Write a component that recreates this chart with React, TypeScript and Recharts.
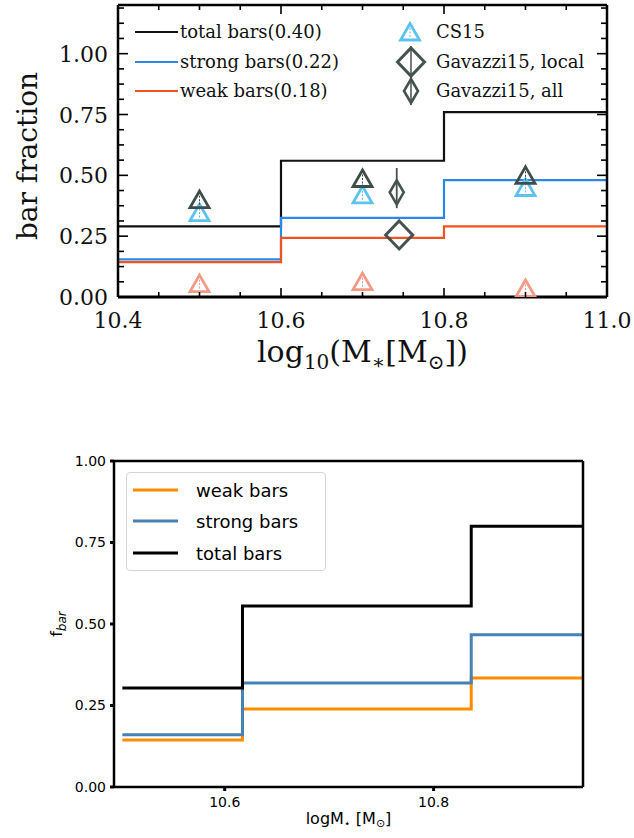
import React from 'react';
import { ComposedChart, Line, Scatter, XAxis, YAxis, ErrorBar, Legend } from 'recharts';

// ---------- top panel: simulation steps + CS15 / Gavazzi15 points ----------
const topEdges = [10.4, 10.6, 10.8, 11.0];
const topTotal = [0.29, 0.56, 0.76];
const topStrong = [0.155, 0.325, 0.48];
const topWeak = [0.143, 0.243, 0.29];

const cs15Mass = [10.5, 10.7, 10.9];
const cs15Total = [0.4, 0.487, 0.5];
const cs15Strong = [0.347, 0.42, 0.45];
const cs15Weak = [0.055, 0.063, 0.035];

const gavLocalMass = [10.745];
const gavLocalFrac = [0.255];
const gavAllMass = [10.742];
const gavAllFrac = [0.43];
const gavAllErr = [[0.065, 0.1]];

const topXTicks = [10.4, 10.45, 10.5, 10.55, 10.6, 10.65, 10.7, 10.75, 10.8, 10.85, 10.9, 10.95, 11.0];
const topYTicks = [0, 0.0625, 0.125, 0.1875, 0.25, 0.3125, 0.375, 0.4375, 0.5, 0.5625, 0.625, 0.6875,
  0.75, 0.8125, 0.875, 0.9375, 1.0, 1.0625, 1.125, 1.1875];
const topSimLabels = ['total bars(0.40)', 'strong bars(0.22)', 'weak bars(0.18)'];
const topObsLabels = ['CS15', 'Gavazzi15, local', 'Gavazzi15, all'];

// ---------- bottom panel ----------
const botEdges = [10.502, 10.617, 10.836, 10.943];
const botWeak = [0.144, 0.239, 0.334];
const botStrong = [0.16, 0.319, 0.467];
const botTotal = [0.304, 0.555, 0.8];
const botXTicks = [10.6, 10.8];
const botYTicks = [0, 0.25, 0.5, 0.75, 1.0];
const botLabels = ['weak bars', 'strong bars', 'total bars'];

const C = {
  black: '#111111',
  blue: '#2b87e8',
  red: '#f1531f',
  csBlue: '#5cc3ee',
  csGray: '#3f4d4a',
  csSalmon: '#f29a84',
  gav: '#46524f',
  orange: '#ff8c00',
  steel: '#4682b4',
};

const SERIF = 'DejaVu Serif';
const SANS = 'DejaVu Sans';

const steps = (edges: number[], vals: number[]) =>
  edges.map((x, i) => ({ x, y: vals[Math.min(i, vals.length - 1)] }));
const points = (xs: number[], ys: number[]) => xs.map((x, i) => ({ x, y: ys[i] }));

const isMajorX = (v: number) => Math.abs(v * 5 - Math.round(v * 5)) < 1e-6;
const isMajorY = (v: number) => Math.abs(v * 4 - Math.round(v * 4)) < 1e-6;

// inward matplotlib-like ticks for the top panel
const BottomTick = (props: any) => {
  const { x, y, payload } = props;
  const major = isMajorX(payload.value);
  return (
    <g>
      <line x1={x} x2={x} y1={y} y2={y - (major ? 9 : 5)} stroke="#000" strokeWidth={1.6} />
      {major && (
        <text x={x} y={y + 31} textAnchor="middle" fontFamily={SERIF} fontSize={22} fill="#111">
          {payload.value.toFixed(1)}
        </text>
      )}
    </g>
  );
};
const TopTick = (props: any) => {
  const { x, y, payload } = props;
  const major = isMajorX(payload.value);
  return <line x1={x} x2={x} y1={y} y2={y + (major ? 9 : 5)} stroke="#000" strokeWidth={1.6} />;
};
const LeftTick = (props: any) => {
  const { x, y, payload } = props;
  const major = isMajorY(payload.value);
  return (
    <g>
      <line x1={x} x2={x + (major ? 10 : 6)} y1={y} y2={y} stroke="#000" strokeWidth={1.6} />
      {major && (
        <text x={x - 10} y={y + 8} textAnchor="end" fontFamily={SERIF} fontSize={22} fill="#111">
          {payload.value.toFixed(2)}
        </text>
      )}
    </g>
  );
};
const RightTick = (props: any) => {
  const { x, y, payload } = props;
  const major = isMajorY(payload.value);
  return <line x1={x} x2={x - (major ? 10 : 6)} y1={y} y2={y} stroke="#000" strokeWidth={1.6} />;
};

// markers
const triangle = (color: string) => (props: any) => {
  const { cx, cy } = props;
  return (
    <g>
      <path d={`M${cx},${cy - 8.5} L${cx + 9.5},${cy + 8} L${cx - 9.5},${cy + 8} Z`} fill="none" stroke={color} strokeWidth={2.8} strokeLinejoin="miter" />
      <line x1={cx} x2={cx} y1={cy - 4} y2={cy + 5} stroke={color} strokeWidth={1} strokeDasharray="2 1.5" />
    </g>
  );
};
const diamond = (w: number, h: number, sw: number) => (props: any) => {
  const { cx, cy } = props;
  return (
    <path d={`M${cx},${cy - h / 2} L${cx + w / 2},${cy} L${cx},${cy + h / 2} L${cx - w / 2},${cy} Z`} fill="none" stroke={C.gav} strokeWidth={sw} />
  );
};
const csBlueTri = triangle(C.csBlue);
const csGrayTri = triangle(C.csGray);
const csSalmonTri = triangle(C.csSalmon);
const localDiamond = diamond(27, 28, 3);
const allDiamond = diamond(14, 24, 2.6);

const TopLegend = () => {
  const simColors = [C.black, C.blue, C.red];
  const rows = [20, 50, 79];
  return (
    <svg width={490} height={100} style={{ display: 'block' }}>
      {topSimLabels.map((t, i) => (
        <g key={t}>
          <line x1={15} x2={58} y1={rows[i]} y2={rows[i]} stroke={simColors[i]} strokeWidth={2.2} />
          <text x={60} y={rows[i] + 6} fontFamily={SERIF} fontSize={18} fill="#111">{t}</text>
        </g>
      ))}
      {csBlueTri({ cx: 290, cy: rows[0] })}
      <g>
        <line x1={291} x2={291} y1={rows[1] - 16} y2={rows[1] + 16} stroke={C.gav} strokeWidth={1.5} />
        {localDiamond({ cx: 291, cy: rows[1] })}
      </g>
      <g>
        <line x1={291} x2={291} y1={rows[2] - 14} y2={rows[2] + 14} stroke={C.gav} strokeWidth={1.5} />
        {allDiamond({ cx: 291, cy: rows[2] })}
      </g>
      {topObsLabels.map((t, i) => (
        <text key={t} x={316} y={rows[i] + 6} fontFamily={SERIF} fontSize={18} fill="#111">{t}</text>
      ))}
    </svg>
  );
};

const BotLegend = () => {
  const colors = [C.orange, C.steel, '#000'];
  const rows = [17, 48, 80];
  return (
    <div style={{ width: 200, height: 99, border: '1px solid #d5d5d5', borderRadius: 4, background: 'rgba(255,255,255,0.8)', boxSizing: 'border-box' }}>
      <svg width={200} height={99} style={{ display: 'block' }}>
        {botLabels.map((t, i) => (
          <g key={t}>
            <line x1={6} x2={51} y1={rows[i]} y2={rows[i]} stroke={colors[i]} strokeWidth={3} />
            <text x={69} y={rows[i] + 7} fontFamily={SANS} fontSize={18} fill="#000">{t}</text>
          </g>
        ))}
      </svg>
    </div>
  );
};

const TopXTitle = (props: any) => {
  const vb = props.viewBox;
  return (
    <text x={vb.x + vb.width / 2} y={vb.y + 65} textAnchor="middle" fontFamily={SERIF} fontSize={30} fill="#111">
      log<tspan fontSize={20} dy={7}>10</tspan>
      <tspan dy={-7}>(M</tspan>
      <tspan fontSize={20} dy={7}>∗</tspan>
      <tspan dy={-7}>[M</tspan>
      <tspan fontSize={20} dy={7}>⊙</tspan>
      <tspan dy={-7}>])</tspan>
    </text>
  );
};
const TopYTitle = (props: any) => {
  const vb = props.viewBox;
  const cy = vb.y + vb.height / 2 + 5;
  return (
    <text x={37} y={cy} transform={`rotate(-90 37 ${cy})`} textAnchor="middle" fontFamily={SERIF} fontSize={28} fill="#111">
      bar fraction
    </text>
  );
};
const BotXTitle = (props: any) => {
  const vb = props.viewBox;
  return (
    <text x={vb.x + vb.width / 2} y={vb.y + 37} textAnchor="middle" fontFamily={SANS} fontSize={16} fill="#000">
      logM<tspan fontSize={11} dy={3}>⋆</tspan>
      <tspan dy={-3}> [M</tspan>
      <tspan fontSize={11} dy={3}>⊙</tspan>
      <tspan dy={-3}>]</tspan>
    </text>
  );
};
const BotYTitle = (props: any) => {
  const vb = props.viewBox;
  const cy = vb.y + vb.height / 2;
  return (
    <text x={62} y={cy} transform={`rotate(-90 62 ${cy})`} textAnchor="middle" fontFamily={SANS} fontSize={16} fill="#000">
      f<tspan fontSize={12} fontStyle="italic" dy={4}>bar</tspan>
    </text>
  );
};

const frame = { stroke: '#000', strokeWidth: 2.5 };

export default function App() {
  return (
    <div style={{ position: 'absolute', left: 0, top: 0, width: 634, height: 838, background: '#fff' }}>
      <div style={{ position: 'absolute', left: 0, top: 0 }}>
        <ComposedChart width={634} height={400} margin={{ top: 4, right: 26, bottom: 0, left: 0 }}>
          <XAxis dataKey="x" type="number" domain={[10.4, 11.0]} allowDataOverflow ticks={topXTicks} interval={0}
            height={103} tickSize={0} tickMargin={0} tickLine={false} axisLine={{ stroke: '#000', strokeWidth: 3 }} tick={<BottomTick />}
            label={<TopXTitle />} />
          <XAxis xAxisId="t" orientation="top" dataKey="x" type="number" domain={[10.4, 11.0]} allowDataOverflow
            ticks={topXTicks} interval={0} height={1} tickSize={0} tickMargin={0} tickLine={false} axisLine={frame} tick={<TopTick />} />
          <YAxis dataKey="y" type="number" domain={[0, 1.2]} allowDataOverflow ticks={topYTicks} interval={0}
            width={118} tickSize={0} tickMargin={0} tickLine={false} axisLine={frame} tick={<LeftTick />}
            label={<TopYTitle />} />
          <YAxis yAxisId="r" orientation="right" dataKey="y" type="number" domain={[0, 1.2]} allowDataOverflow
            ticks={topYTicks} interval={0} width={1} tickSize={0} tickMargin={0} tickLine={false} axisLine={frame} tick={<RightTick />} />
          <Line data={steps(topEdges, topTotal)} dataKey="y" type="stepAfter" stroke={C.black} strokeWidth={2.2} dot={false} isAnimationActive={false} />
          <Line data={steps(topEdges, topStrong)} dataKey="y" type="stepAfter" stroke={C.blue} strokeWidth={2.2} dot={false} isAnimationActive={false} />
          <Line data={steps(topEdges, topWeak)} dataKey="y" type="stepAfter" stroke={C.red} strokeWidth={2.2} dot={false} isAnimationActive={false} />
          <Scatter data={points(cs15Mass, cs15Strong)} dataKey="y" shape={csBlueTri} isAnimationActive={false} />
          <Scatter data={points(cs15Mass, cs15Total)} dataKey="y" shape={csGrayTri} isAnimationActive={false} />
          <Scatter data={points(cs15Mass, cs15Weak)} dataKey="y" shape={csSalmonTri} isAnimationActive={false} />
          <Scatter data={points(gavLocalMass, gavLocalFrac)} dataKey="y" shape={localDiamond} isAnimationActive={false} />
          <Scatter data={gavAllMass.map((x, i) => ({ x, y: gavAllFrac[i], err: gavAllErr[i] }))} dataKey="y" shape={allDiamond} isAnimationActive={false}>
            <ErrorBar dataKey="err" direction="y" width={0} stroke={C.gav} strokeWidth={1.8} />
          </Scatter>
          <Legend layout="vertical" align="center" verticalAlign="middle" wrapperStyle={{ left: 120, top: 12 }} content={() => <TopLegend />} />
        </ComposedChart>
      </div>
      <div style={{ position: 'absolute', left: 0, top: 440 }}>
        <ComposedChart width={634} height={398} margin={{ top: 20, right: 50, bottom: 0, left: 0 }}>
          <XAxis dataKey="x" type="number" domain={[10.494, 10.943]} allowDataOverflow ticks={botXTicks} interval={0}
            height={51} tickSize={4} tickMargin={6} tickLine={{ stroke: '#000', strokeWidth: 3 }} axisLine={frame}
            tick={{ fill: '#000', fontSize: 14, fontFamily: SANS }} tickFormatter={(v: number) => v.toFixed(1)}
            label={<BotXTitle />} />
          <XAxis xAxisId="t" orientation="top" dataKey="x" type="number" domain={[10.494, 10.943]} allowDataOverflow
            ticks={botXTicks} interval={0} height={1} tickSize={4} tickLine={{ stroke: '#000', strokeWidth: 3 }} axisLine={frame} tick={false} />
          <YAxis dataKey="y" type="number" domain={[0, 1]} allowDataOverflow ticks={botYTicks} interval={0}
            width={114} tickSize={4} tickMargin={4} tickLine={{ stroke: '#000', strokeWidth: 3 }} axisLine={frame}
            tick={{ fill: '#000', fontSize: 14, fontFamily: SANS }} tickFormatter={(v: number) => v.toFixed(2)}
            label={<BotYTitle />} />
          <YAxis yAxisId="r" orientation="right" dataKey="y" type="number" domain={[0, 1]} allowDataOverflow
            ticks={botYTicks} interval={0} width={1} tickSize={4} tickLine={{ stroke: '#000', strokeWidth: 3 }} axisLine={frame} tick={false} />
          <Line data={steps(botEdges, botWeak)} dataKey="y" type="stepAfter" stroke={C.orange} strokeWidth={3} dot={false} isAnimationActive={false} />
          <Line data={steps(botEdges, botStrong)} dataKey="y" type="stepAfter" stroke={C.steel} strokeWidth={3} dot={false} isAnimationActive={false} />
          <Line data={steps(botEdges, botTotal)} dataKey="y" type="stepAfter" stroke="#000" strokeWidth={3} dot={false} isAnimationActive={false} />
          <Legend layout="vertical" align="center" verticalAlign="middle" wrapperStyle={{ left: 126, top: 32 }} content={() => <BotLegend />} />
        </ComposedChart>
      </div>
    </div>
  );
}
